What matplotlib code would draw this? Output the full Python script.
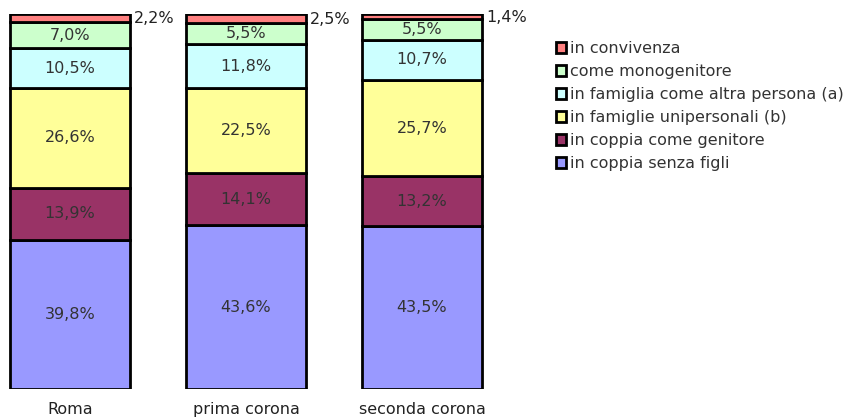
import matplotlib
matplotlib.use("Agg")
import matplotlib.pyplot as plt
import numpy as np

categorie = ["Roma", "prima corona", "seconda corona"]
serie = ["in coppia senza figli", "in coppia come genitore",
         "in famiglie unipersonali (b)", "in famiglia come altra persona (a)",
         "come monogenitore", "in convivenza"]
valori = {
    "in coppia senza figli": [39.8, 43.6, 43.5],
    "in coppia come genitore": [13.9, 14.1, 13.2],
    "in famiglie unipersonali (b)": [26.6, 22.5, 25.7],
    "in famiglia come altra persona (a)": [10.5, 11.8, 10.7],
    "come monogenitore": [7.0, 5.5, 5.5],
    "in convivenza": [2.2, 2.5, 1.4],
}
colori = ["#9999FF", "#993366", "#FFFF99", "#CCFFFF", "#CCFFCC", "#FF8080"]

W, H = 851, 419
FS = 11.5
fig = plt.figure(figsize=(W / 100, H / 100), dpi=100)
# pixel layout: bars from y=389 (bottom) to y=14 (top)
ax = fig.add_axes([0, 30 / H, 520 / W, 375 / H])
step = 176.0
ax.set_xlim(-70 / step, (520 - 70) / step)
ax.set_ylim(0, 100)

x = np.arange(len(categorie))
largh = 120 / step
base = np.zeros(len(categorie))
handles = []
for nome, col in zip(serie, colori):
    v = np.array(valori[nome])
    b = ax.bar(x, v, largh, bottom=base, color=col, edgecolor="black",
               linewidth=2.0, label=nome)
    handles.append(b)
    for i in range(len(x)):
        testo = f"{v[i]:.1f}%".replace(".", ",")
        yc = base[i] + v[i] / 2
        if nome == "in convivenza":
            ax.text(x[i] + largh / 2 + 4 / step, yc - 0.2, testo, ha="left",
                    va="center", fontsize=FS, color="#222222")
        else:
            ax.text(x[i], yc, testo, ha="center", va="center",
                    fontsize=FS, color="#333333")
    base = base + v

ax.set_xticks(x)
ax.set_xticklabels(categorie, fontsize=FS, color="#222222")
ax.tick_params(axis="x", length=0, pad=9)
ax.set_yticks([])
for s in ax.spines.values():
    s.set_visible(False)

leg = fig.legend(handles[::-1], serie[::-1], loc="upper left",
                 bbox_to_anchor=(548 / W, 1 - 33 / H), frameon=False,
                 fontsize=FS, handlelength=0.65, handleheight=0.65,
                 handletextpad=0.25, labelspacing=0.5, borderpad=0)
for t in leg.get_texts():
    t.set_color("#333333")

fig.savefig("out.png", dpi=100)
